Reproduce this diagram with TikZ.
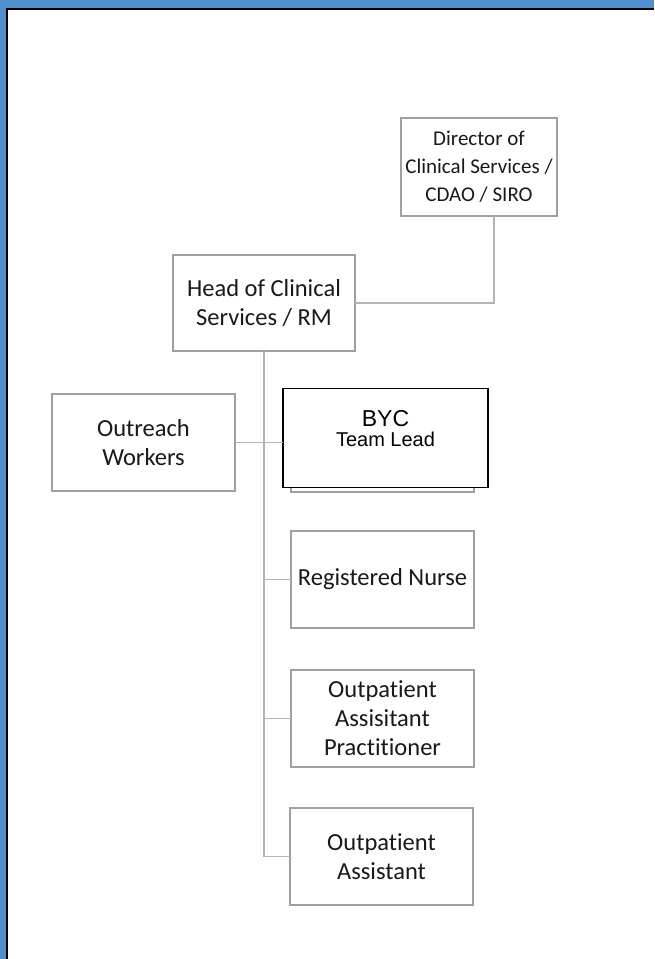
\documentclass[tikz,border=0pt]{standalone}
\usepackage{fontspec}
\setmainfont{Carlito}[Ligatures=NoCommon]
\newfontfamily\arialfont{Liberation Sans}
\usetikzlibrary{positioning}
\definecolor{frameblue}{RGB}{79,143,204}
\definecolor{boxgrey}{RGB}{160,160,160}
\definecolor{linkgrey}{RGB}{180,180,180}
\definecolor{textgrey}{RGB}{25,25,25}

\begin{document}
\begin{tikzpicture}[
        x=1pt, y=1pt,
        node distance=42pt and 46pt,
        post/.style={draw=boxgrey, line width=1.6pt, outer sep=0pt, fill=white, rectangle, minimum width=183pt, minimum height=97pt, align=center, text=textgrey, font=\fontsize{24.5}{29}\selectfont},
        lead/.style={draw=black, line width=1.3pt, outer sep=0pt, fill=white, rectangle, minimum width=205pt, minimum height=99pt, align=center, font=\arialfont\fontsize{20}{20}\selectfont},
        link/.style={draw=linkgrey, line width=1.8pt}
    ]

    % page frame
    \useasboundingbox (0,0) rectangle (654,-959);
    \fill[frameblue] (0,0) rectangle (654,-7.5);
    \fill[frameblue] (0,0) rectangle (5.5,-959);
    \draw[black, line width=2.5pt] (6.75,-959) -- (6.75,-8.75) -- (654,-8.75);

    \node[post, minimum width=182pt, minimum height=96pt] (Head) at (264,-303) {Head of Clinical\\Services / RM};
    \node[post, minimum width=156pt, minimum height=98pt, font=\fontsize{21}{28}\selectfont, above right=39pt and 46pt of Head] (Director) {Director of\\Clinical Services /\\CDAO / SIRO};

    \node[post] (Outreach) at (143.5,-442.5) {Outreach\\Workers};

    % team lead box sits over an older grey one
    \node[post] (BYCback) at (382.5,-443.5) {};
    \node[lead] (BYC) at (385.5,-438) {{\fontsize{23}{20}\selectfont BYC}\\Team Lead\rule[-20pt]{0pt}{20pt}};

    \node[post, below=39pt of BYCback] (Nurse) {Registered Nurse};
    \node[post, below=of Nurse] (Practitioner) {Outpatient\\Assisitant\\Practitioner};
    \node[post, below=41pt of Practitioner, xshift=-1pt] (Assistant) {Outpatient\\Assistant};

    \draw[link] ([xshift=15pt]Director.south) |- (Head.east);
    \draw[link] (Head.south) |- (Assistant.west);
    \draw[link] (Outreach.east) -- (Outreach.east -| BYC.west);
    \draw[link] (Head.south |- Nurse.west) -- (Nurse.west);
    \draw[link] (Head.south |- Practitioner.west) -- (Practitioner.west);

\end{tikzpicture}
\end{document}
